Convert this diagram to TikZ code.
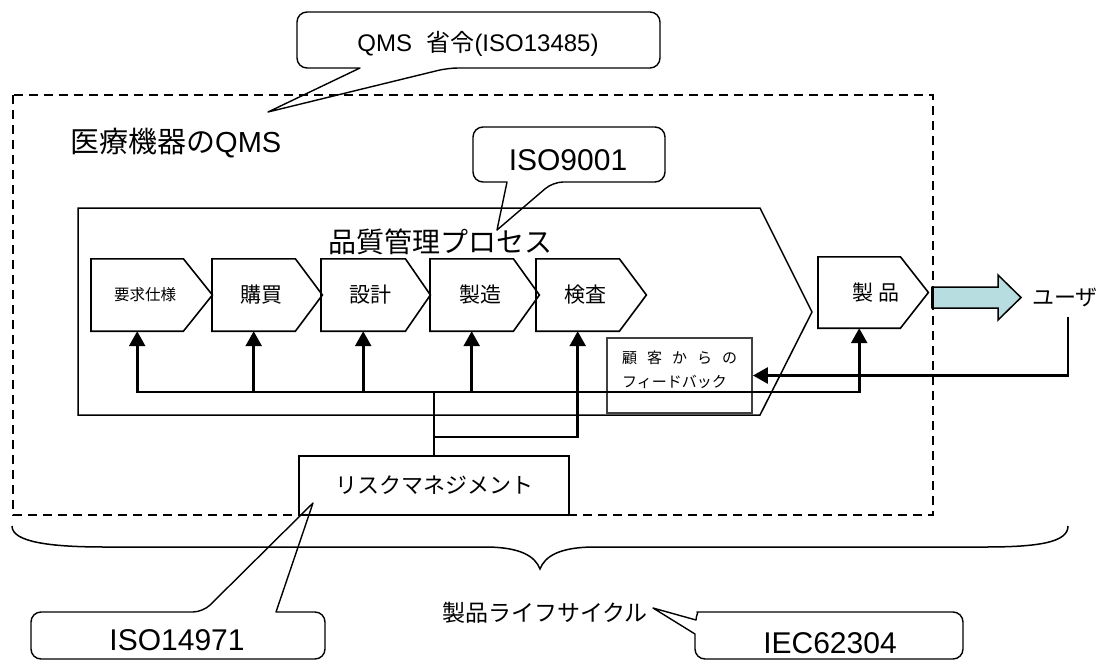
\documentclass[tikz,border=0pt]{standalone}
\usepackage{fontspec}
\setmainfont{Liberation Sans}
\newfontfamily\jp{Noto Sans CJK JP}
\usetikzlibrary{arrows.meta,calc}
\definecolor{arrowfill}{RGB}{183,221,224}
\newcommand\fs[1]{\fontsize{#1}{#1}\selectfont}
\newcommand\mychev[2]{\draw[stepline] (#1.north west) -- (#1.north east) -- ([xshift=#2]#1.east) -- (#1.south east) -- (#1.south west) -- cycle;}
\begin{document}
\begin{tikzpicture}[x=1pt,y=-1pt,
  stepline/.style={line width=1.6pt, line join=miter},
  stepbody/.style={minimum height=72pt, inner sep=0pt, anchor=west, font=\jp\fs{21}},
  conn/.style={line width=2.6pt},
  arr/.style={conn, -{Triangle[length=15pt,width=16pt]}},
  callout/.style={line width=1.4pt, line join=round},
  plain/.style={inner sep=0pt}
]
\useasboundingbox (0,0) rectangle (1099,661);
\fill[white] (0,0) rectangle (1099,661);

% QMS dashed frame
\draw[line width=2pt, dash pattern=on 9pt off 6pt] (13,95) rectangle (933,515);

% brace (product life cycle)
\draw[line width=1.5pt] (12,526) .. controls (12,542) and (50,547) .. (105,547)
  -- (485,547) .. controls (520,547) and (535,556) .. (540,569)
  .. controls (545,556) and (560,547) .. (595,547)
  -- (985,547) .. controls (1040,547) and (1068,542) .. (1068,526);

% quality management process frame
\draw[line width=1.5pt, line join=miter] (78,208) -- (760,208) -- (812,312) -- (760,415) -- (78,415) -- cycle;
\node[font=\jp\fs{28}, plain] (title) at (440,242) {品質管理プロセス};

% steps
\node[stepbody, minimum width=92pt, font=\jp\fs{15.5}] (s1) at (91,295) {\hspace*{16pt}要求仕様};
\node[stepbody, minimum width=83pt] (s2) at (212,295) {\hspace*{16pt}購買};
\node[stepbody, minimum width=84pt] (s3) at (321,295) {\hspace*{14pt}設計};
\node[stepbody, minimum width=83pt] (s4) at (430,295) {\hspace*{18pt}製造};
\node[stepbody, minimum width=83pt] (s5) at (536,295) {\hspace*{16pt}検査};
\node[stepbody, minimum width=82pt, minimum height=71pt] (prod) at (818,292.5) {\hspace*{34pt}製\hspace{5pt}品};
\mychev{s1}{29pt}
\mychev{s2}{27pt}
\mychev{s3}{25pt}
\mychev{s4}{26pt}
\mychev{s5}{27pt}
\mychev{prod}{28pt}

% product to user
\draw[line width=1.5pt, fill=arrowfill, line join=miter] (932,287) -- (998,287) -- (998,275) -- (1021,297.5) -- (998,320) -- (998,308) -- (932,308) -- cycle;
\draw[line width=3pt] (932,287) -- (932,308);
\node[font=\jp\fs{22}, plain, anchor=west] (user) at (1032,297) {ユーザ};

% feedback box
\node[draw=black!75, line width=1.8pt, minimum width=145pt, minimum height=75pt] (fb) at (679.5,375.5) {};
\node[anchor=west, font=\jp\fs{15}, plain] (fb1) at (622,358) {顧\hspace{10pt}客\hspace{10pt}か\hspace{10pt}ら\hspace{10pt}の};
\node[anchor=west, font=\jp\fs{15}, plain] (fb2) at (622,382) {フィードバック};

% risk management
\node[draw, line width=1.5pt, fill=white, minimum width=270pt, minimum height=59pt, font=\jp\fs{22}] (rm) at (434,485.5) {リスクマネジメント};

% connectors
\coordinate (bus) at (0,392);
\coordinate (low) at (0,437);
\draw[conn, {Triangle[length=15pt,width=16pt]}-{Triangle[length=15pt,width=16pt]}, line join=miter]
  (s1.south) -- (s1.south |- bus) -- (prod.south |- bus) -- (prod.south);
\draw[arr] (s2.south |- bus) -- (s2.south);
\draw[arr] (s3.south |- bus) -- (s3.south);
\draw[arr] (s4.south |- bus) -- (s4.south);
\draw[conn] (rm.north) -- (rm.north |- bus);
\draw[arr, line join=miter] (rm.north |- low) -| (s5.south);
\draw[arr, line join=miter] ([xshift=3pt,yshift=-10pt]user.south) |- (fb.east);

% text
\node[font=\fs{29}, plain, anchor=west] (qmsdev) at (70,143) {{\jp 医療機器の}QMS};
\node[font=\fs{24}, plain] (qms) at (478,44) {QMS\hspace{0.6em}{\jp 省令}(ISO13485)};
\node[font=\fs{30}, plain] (iso9) at (568,160) {ISO9001};
\node[font=\fs{30}, plain] (iso14) at (177,640) {ISO14971};
\node[font=\fs{30}, plain] (iec) at (830,643) {IEC62304};
\node[font=\jp\fs{23}, plain] (life) at (545,613) {製品ライフサイクル};

% callouts
\draw[callout] (268,112) -- (360,68) [rounded corners=10pt] -- (297,68) -- (297,12) -- (660,12) -- (660,68) -- (448,68) [sharp corners] -- cycle;
\draw[callout] (497,230) -- (507,182) [rounded corners=10pt] -- (473,182) -- (473,127) -- (665,127) -- (665,182) -- (553,182) [sharp corners] -- cycle;
\draw[callout] (313,503) -- (276,612) [rounded corners=10pt] -- (325,612) -- (325,659) -- (31,659) -- (31,612) -- (203,612) [sharp corners] -- cycle;
\draw[callout] (653,608) -- (695,634) [rounded corners=10pt] -- (695,659) -- (963,659) -- (963,612) -- (707,612) [sharp corners] .. controls (699,612) and (696,615) .. (696,620) -- cycle;
\end{tikzpicture}
\end{document}
